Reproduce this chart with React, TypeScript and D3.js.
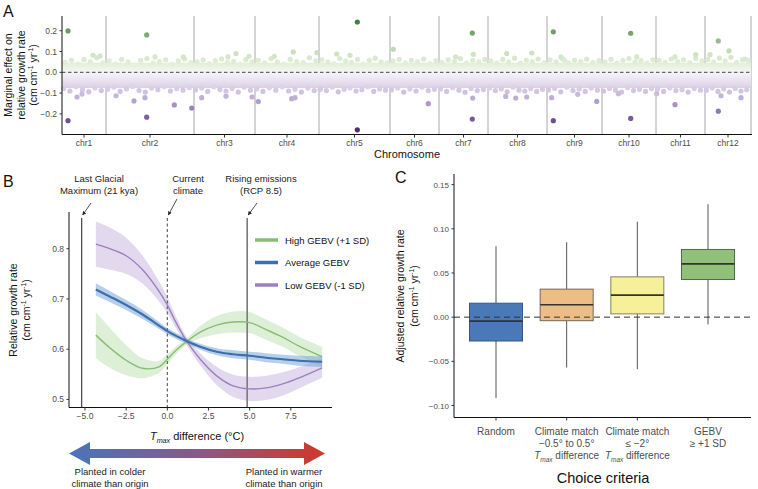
import React from 'react';
import * as d3 from 'd3';

// ---------- Panel A data ----------
const chromosomes = ['chr1','chr2','chr3','chr4','chr5','chr6','chr7','chr8','chr9','chr10','chr11','chr12'];
const chrLengths = [44, 88, 61, 64, 71, 49, 49, 59, 55, 54, 49, 46];
const yTicksA = [-0.2, -0.1, 0, 0.1, 0.2];
// [chromosome index, position within chromosome, marginal effect]
const outliers: [number, number, number][] = [
  [0, 6, 0.199], [0, 6, -0.233], [0, 15, -0.119], [0, 31, 0.082], [0, 20, -0.105], [0, 38, 0.078],
  [1, 40.7, 0.18], [1, 40.7, -0.216], [1, 10, -0.113], [1, 28, -0.138], [1, 39, -0.122], [1, 49, 0.074],
  [1, 68.3, -0.157], [1, 77.3, 0.074], [1, 85.7, -0.172],
  [2, 7.7, -0.122], [2, 32, -0.115], [2, 34, 0.074], [2, 42, 0.09], [2, 55, 0.077], [2, 58, -0.119],
  [3, 3.3, -0.141], [3, 19.3, 0.077], [3, 36.7, -0.127], [3, 40, -0.122], [3, 38.3, 0.098], [3, 62, 0.095],
  [4, 38.3, 0.242], [4, 38.3, -0.277], [4, 17.7, 0.088], [4, 31, 0.082], [4, 1, -0.084],
  [5, 3.3, 0.111], [5, 38.3, -0.151],
  [6, 33.3, 0.189], [6, 33.3, -0.225], [6, 33.7, -0.124], [6, 34.3, 0.087], [6, 16.7, 0.074],
  [7, 18.7, 0.09], [7, 27.7, -0.124], [7, 38.7, -0.119], [7, 17.7, -0.116], [7, 43.7, 0.093],
  [8, 6.3, 0.195], [8, 6.3, -0.233], [8, 4.7, -0.122], [8, 14, 0.074], [8, 17.3, 0.058], [8, 30.7, -0.106], [8, 49.7, -0.14],
  [9, 28.7, 0.188], [9, 28.7, -0.222], [9, 16.3, -0.103], [9, 34.7, 0.074],
  [10, 19, 0.074], [10, 19, -0.156], [10, 39.7, 0.085], [10, 0.7, -0.103],
  [11, 13.3, 0.151], [11, 13.3, -0.187], [11, 24, 0.103], [11, 5, 0.085], [11, 16, -0.113], [11, 36, -0.122], [11, 40, 0.063],
];
const upperFringe: number[][] = [
  [0.048,0.058,0.040,0.062,0.052,0.070,0.045],
  [0.055,0.040,0.062,0.050,0.035,0.058,0.066,0.045,0.052,0.060,0.038,0.055,0.064,0.047],
  [0.050,0.060,0.042,0.056,0.064,0.048,0.053,0.040,0.061,0.050],
  [0.058,0.045,0.066,0.050,0.040,0.062,0.052,0.048,0.070,0.055],
  [0.060,0.050,0.042,0.066,0.055,0.048,0.062,0.040,0.058,0.068,0.050,0.045],
  [0.055,0.062,0.045,0.058,0.050,0.064,0.042,0.056],
  [0.048,0.060,0.052,0.066,0.045,0.058,0.050,0.062],
  [0.055,0.045,0.062,0.050,0.068,0.044,0.058,0.052,0.064,0.047],
  [0.060,0.050,0.066,0.045,0.058,0.052,0.063,0.048,0.056],
  [0.050,0.062,0.045,0.058,0.066,0.050,0.056,0.044,0.060],
  [0.058,0.048,0.064,0.052,0.060,0.046,0.066,0.055],
  [0.062,0.050,0.068,0.055,0.072,0.048,0.060,0.058],
];
const lowerFringe: number[][] = [
  [-0.078,-0.090,-0.070,-0.085,-0.094,-0.075,-0.088],
  [-0.082,-0.072,-0.092,-0.080,-0.068,-0.088,-0.095,-0.076,-0.084,-0.070,-0.090,-0.079,-0.086,-0.074],
  [-0.085,-0.075,-0.092,-0.070,-0.083,-0.090,-0.078,-0.095,-0.072,-0.086],
  [-0.080,-0.092,-0.074,-0.086,-0.070,-0.090,-0.082,-0.095,-0.076,-0.088],
  [-0.078,-0.088,-0.072,-0.094,-0.082,-0.075,-0.090,-0.084,-0.070,-0.092,-0.080,-0.086],
  [-0.085,-0.075,-0.095,-0.080,-0.090,-0.072,-0.088,-0.082],
  [-0.080,-0.092,-0.074,-0.086,-0.096,-0.078,-0.088,-0.083],
  [-0.075,-0.088,-0.080,-0.094,-0.072,-0.086,-0.090,-0.078,-0.092,-0.082],
  [-0.085,-0.078,-0.094,-0.072,-0.088,-0.080,-0.092,-0.076,-0.086],
  [-0.090,-0.078,-0.086,-0.095,-0.074,-0.088,-0.082,-0.092,-0.079],
  [-0.080,-0.092,-0.075,-0.088,-0.084,-0.095,-0.078,-0.086],
  [-0.086,-0.075,-0.092,-0.080,-0.095,-0.078,-0.090,-0.084],
];
const bandTop = 0.046;
const bandBottom = -0.076;

// ---------- Panel B data ----------
const tmaxGrid = [-4.34, -3.5, -2.5, -1.5, -0.5, 0, 0.5, 1.2, 2, 3, 4, 5, 6, 7, 8, 9.4];
const highGEBV = [0.628, 0.603, 0.578, 0.562, 0.565, 0.580, 0.597, 0.616, 0.634, 0.648, 0.654, 0.653, 0.639, 0.624, 0.606, 0.585];
const highSE   = [0.046, 0.040, 0.030, 0.020, 0.012, 0.010, 0.008, 0.006, 0.012, 0.018, 0.021, 0.021, 0.020, 0.019, 0.019, 0.020];
const avgGEBV  = [0.719, 0.705, 0.688, 0.669, 0.647, 0.636, 0.627, 0.616, 0.605, 0.595, 0.590, 0.587, 0.583, 0.580, 0.577, 0.575];
const avgSE    = [0.012, 0.011, 0.010, 0.009, 0.007, 0.006, 0.006, 0.005, 0.006, 0.007, 0.008, 0.008, 0.009, 0.009, 0.010, 0.011];
const lowGEBV  = [0.809, 0.800, 0.786, 0.758, 0.715, 0.688, 0.655, 0.615, 0.580, 0.547, 0.527, 0.521, 0.523, 0.531, 0.543, 0.563];
const lowSE    = [0.045, 0.042, 0.036, 0.028, 0.020, 0.016, 0.012, 0.008, 0.012, 0.018, 0.022, 0.024, 0.024, 0.023, 0.021, 0.020];
const xTicksB = [-5, -2.5, 0, 2.5, 5, 7.5];
const yTicksB = [0.5, 0.6, 0.7, 0.8];
const refLines = [-5.2, 0, 4.85];

// ---------- Panel C data ----------
const criteria = ['Random', 'Climate match narrow', 'Climate match cold', 'GEBV'];
const boxMin = [-0.0916, -0.057, -0.0588, -0.0083];
const boxQ1 = [-0.027, -0.004, 0.0037, 0.0426];
const boxMedian = [-0.0045, 0.014, 0.0249, 0.0603];
const boxQ3 = [0.0158, 0.0317, 0.0456, 0.0766];
const boxMax = [0.0803, 0.0848, 0.108, 0.1278];
const yTicksC = [-0.1, -0.05, 0, 0.05, 0.1, 0.15];

const FONT = "'Liberation Sans', Arial, Helvetica, sans-serif";
const GRAY = '#4d4d4d';

const fmtMinus = (s: string) => s.replace('-', '\u2212');

function Unit({ x, y, size }: { x: number; y: number; size: number }) {
  return (
    <text x={x} y={y} fontSize={size} textAnchor="middle" fill="#111">
      <tspan>(cm cm</tspan>
      <tspan fontSize={size * 0.65} dy={-size * 0.38}>-1</tspan>
      <tspan dy={size * 0.38}> yr</tspan>
      <tspan fontSize={size * 0.65} dy={-size * 0.38}>-1</tspan>
      <tspan dy={size * 0.38}>)</tspan>
    </text>
  );
}

export default function App() {
  // ===== Panel A =====
  const chrStarts = chrLengths.map((_, i) => d3.sum(chrLengths.slice(0, i)));
  const total = d3.sum(chrLengths);
  const xA = d3.scaleLinear().domain([0, total]).range([62, 751]);
  const yA = d3.scaleLinear().domain([-0.297, 0.271]).range([134, 16]);
  const greenC = d3.scaleLinear<string>().domain([0, 0.03, 0.06, 0.1, 0.19, 0.25])
    .range(['#f6f8f3', '#e9f1e1', '#dcebd1', '#c8dfba', '#73a368', '#3d7a3c']).clamp(true);
  const purpleC = d3.scaleLinear<string>().domain([0, -0.03, -0.07, -0.12, -0.22, -0.28])
    .range(['#f7f5f9', '#ece6f2', '#ddd3e8', '#c0b0d6', '#7c5c9f', '#4b2b6f']).clamp(true);
  const colA = (v: number) => (v >= 0 ? greenC(v) : purpleC(v));

  const fringePts: { x: number; v: number }[] = [];
  chromosomes.forEach((_, c) => {
    const L = chrLengths[c];
    upperFringe[c].forEach((v, i, arr) => fringePts.push({ x: xA(chrStarts[c] + ((i + 0.5) / arr.length) * L), v }));
    lowerFringe[c].forEach((v, i, arr) => fringePts.push({ x: xA(chrStarts[c] + ((i + 0.25) / arr.length) * L), v }));
  });
  const bandStops = [bandTop, 0.025, 0.008, -0.008, -0.025, -0.05, bandBottom];

  // ===== Panel B =====
  const xB = d3.scaleLinear().domain([-5.97, 10]).range([69, 332]);
  const yB = d3.scaleLinear().domain([0.485, 0.873]).range([407, 212]);
  const lineB = (vals: number[]) =>
    d3.line<number>().x((_, i) => xB(tmaxGrid[i])).y((v) => yB(v)).curve(d3.curveCatmullRom.alpha(0.5))(vals) || '';
  const ribbonB = (vals: number[], se: number[]) =>
    d3.area<number>().x((_, i) => xB(tmaxGrid[i])).y0((v, i) => yB(v - se[i])).y1((v, i) => yB(v + se[i]))
      .curve(d3.curveCatmullRom.alpha(0.5))(vals) || '';
  const series = [
    { name: 'High GEBV (+1 SD)', vals: highGEBV, se: highSE, line: '#86bf72', fill: '#9fd08b', op: 0.35, w: 1.4 },
    { name: 'Average GEBV', vals: avgGEBV, se: avgSE, line: '#3d6eae', fill: '#6fa2d6', op: 0.5, w: 2.2 },
    { name: 'Low GEBV (-1 SD)', vals: lowGEBV, se: lowSE, line: '#9a80bd', fill: '#b9a0d6', op: 0.4, w: 1.4 },
  ];
  const drawOrder = [0, 2, 1];

  // ===== Panel C =====
  const xC = d3.scalePoint<string>().domain(criteria).range([496, 708]);
  const yC = d3.scaleLinear().domain([-0.113, 0.162]).range([417, 174]);
  const boxW = 53;
  const boxFill = ['#4a79b7', '#ecbd84', '#f7f09b', '#91c07b'];
  const boxStroke = ['#38577f', '#77664f', '#85825c', '#4f6d45'];

  const tmaxLabel = (extra: string) => (
    <>
      <tspan fontStyle="italic">T</tspan>
      <tspan fontStyle="italic" fontSize="65%" dy={2.5}>max</tspan>
      <tspan dy={-2.5}>{extra}</tspan>
    </>
  );
  const cLabels: React.ReactNode[][] = [
    ['Random'],
    ['Climate match', '\u22120.5\u00b0 to 0.5\u00b0', tmaxLabel(' difference')],
    ['Climate match', '\u2264 \u22122\u00b0', tmaxLabel(' difference')],
    ['GEBV', '\u2265 +1 SD'],
  ];

  return (
    <svg width={758} height={489} style={{ position: 'absolute', left: 0, top: 0, background: '#fff' }} fontFamily={FONT}>
      <defs>
        <linearGradient id="bandGrad" gradientUnits="userSpaceOnUse" x1={0} x2={0} y1={yA(bandTop)} y2={yA(bandBottom)}>
          {bandStops.map((v, i) => (
            <stop key={i} offset={(yA(v) - yA(bandTop)) / (yA(bandBottom) - yA(bandTop))} stopColor={colA(v)} />
          ))}
        </linearGradient>
        <linearGradient id="arrowGrad" x1="0" x2="1" y1="0" y2="0">
          <stop offset="0" stopColor="#4a74ba" />
          <stop offset="0.5" stopColor="#875a87" />
          <stop offset="1" stopColor="#d1382a" />
        </linearGradient>
        <marker id="arr" viewBox="0 0 10 10" refX="9" refY="5" markerWidth="5" markerHeight="5" orient="auto">
          <path d="M0,0 L10,5 L0,10 z" fill="#222" />
        </marker>
      </defs>

      {/* ================= Panel A ================= */}
      <text x={3} y={17} fontSize={16} fill="#111">A</text>
      {chrStarts.slice(1).concat([total]).map((s, i) => (
        <line key={i} x1={xA(s)} x2={xA(s)} y1={16} y2={134} stroke="#a8a8a8" strokeWidth={1} />
      ))}
      <rect x={xA(0)} width={xA(total) - xA(0)} y={yA(bandTop)} height={yA(bandBottom) - yA(bandTop)} fill="url(#bandGrad)" />
      {fringePts.map((p, i) => (
        <circle key={i} cx={p.x} cy={yA(p.v)} r={2.6} fill={colA(p.v)} />
      ))}
      {outliers.map(([c, pos, v], i) => (
        <circle key={'o' + i} cx={xA(chrStarts[c] + pos)} cy={yA(v)} r={2.6} fill={colA(v)} />
      ))}
      <line x1={62} x2={751} y1={yA(0)} y2={yA(0)} stroke="#444" strokeWidth={1} strokeDasharray="3.5,2.5" />
      <line x1={62} x2={62} y1={16} y2={134.5} stroke="#111" strokeWidth={1} />
      <line x1={62} x2={752} y1={134.5} y2={134.5} stroke="#111" strokeWidth={1} />
      {yTicksA.map((t) => (
        <g key={t}>
          <line x1={59.5} x2={62} y1={yA(t)} y2={yA(t)} stroke="#333" />
          <text x={57} y={yA(t) + 3} fontSize={8.5} textAnchor="end" fill={GRAY}>{fmtMinus(t.toFixed(1))}</text>
        </g>
      ))}
      {chromosomes.map((c, i) => {
        const cx = xA(chrStarts[i] + chrLengths[i] / 2);
        return (
          <g key={c}>
            <line x1={cx} x2={cx} y1={134.5} y2={137.5} stroke="#333" />
            <text x={cx} y={146} fontSize={8.5} textAnchor="middle" fill={GRAY}>{c}</text>
          </g>
        );
      })}
      <text x={407} y={157.5} fontSize={11} textAnchor="middle" fill="#111">Chromosome</text>
      <g transform="translate(12,75) rotate(-90)">
        <text x={0} y={0} fontSize={10.5} textAnchor="middle" fill="#111">Marginal effect on</text>
      </g>
      <g transform="translate(24.5,75) rotate(-90)">
        <text x={0} y={0} fontSize={10.5} textAnchor="middle" fill="#111">relative growth rate</text>
      </g>
      <g transform="translate(37,75) rotate(-90)">
        <Unit x={0} y={0} size={10.5} />
      </g>

      {/* ================= Panel B ================= */}
      <text x={3} y={187} fontSize={16} fill="#111">B</text>
      <text x={99} y={182} fontSize={9.5} textAnchor="middle" fill="#222">Last Glacial</text>
      <text x={99} y={194} fontSize={9.5} textAnchor="middle" fill="#222">Maximum (21 kya)</text>
      <text x={188} y={182} fontSize={9.5} textAnchor="middle" fill="#222">Current</text>
      <text x={188} y={194} fontSize={9.5} textAnchor="middle" fill="#222">climate</text>
      <text x={261} y={182} fontSize={9.5} textAnchor="middle" fill="#222">Rising emissions</text>
      <text x={261} y={194} fontSize={9.5} textAnchor="middle" fill="#222">(RCP 8.5)</text>
      <line x1={91} y1={203} x2={xB(refLines[0]) + 1} y2={215} stroke="#222" strokeWidth={0.8} markerEnd="url(#arr)" />
      <line x1={177} y1={199} x2={xB(refLines[1]) + 1} y2={215} stroke="#222" strokeWidth={0.8} markerEnd="url(#arr)" />
      <line x1={257} y1={203} x2={xB(refLines[2]) + 1} y2={215} stroke="#222" strokeWidth={0.8} markerEnd="url(#arr)" />

      {drawOrder.map((k) => (
        <path key={'r' + k} d={ribbonB(series[k].vals, series[k].se)} fill={series[k].fill} fillOpacity={series[k].op} />
      ))}
      <line x1={xB(refLines[0])} x2={xB(refLines[0])} y1={218} y2={407} stroke="#333" strokeWidth={1.1} />
      <line x1={xB(refLines[1])} x2={xB(refLines[1])} y1={218} y2={407} stroke="#555" strokeWidth={1.1} strokeDasharray="3,2.5" />
      <line x1={xB(refLines[2])} x2={xB(refLines[2])} y1={218} y2={407} stroke="#7a7a7a" strokeWidth={1.6} />
      {drawOrder.map((k) => (
        <path key={'l' + k} d={lineB(series[k].vals)} fill="none" stroke={series[k].line} strokeWidth={series[k].w} />
      ))}
      {series.map((s, i) => (
        <g key={s.name}>
          <line x1={255} x2={278} y1={240 + i * 22.5} y2={240 + i * 22.5} stroke={s.line} strokeWidth={3.5} />
          <text x={285} y={243.5 + i * 22.5} fontSize={9.5} fill="#111">{s.name}</text>
        </g>
      ))}
      <line x1={69} x2={69} y1={212} y2={407.5} stroke="#111" />
      <line x1={69} x2={332} y1={407.5} y2={407.5} stroke="#111" />
      {yTicksB.map((t) => (
        <g key={t}>
          <line x1={66.5} x2={69} y1={yB(t)} y2={yB(t)} stroke="#333" />
          <text x={64} y={yB(t) + 3} fontSize={8.5} textAnchor="end" fill={GRAY}>{t.toFixed(1)}</text>
        </g>
      ))}
      {xTicksB.map((t) => (
        <g key={t}>
          <line x1={xB(t)} x2={xB(t)} y1={407.5} y2={410.5} stroke="#333" />
          <text x={xB(t)} y={419} fontSize={8.5} textAnchor="middle" fill={GRAY}>{fmtMinus(t.toFixed(1))}</text>
        </g>
      ))}
      <text x={197} y={440} fontSize={11} textAnchor="middle" fill="#111">{tmaxLabel(' difference (\u00b0C)')}</text>
      <g transform="translate(17,310) rotate(-90)">
        <text x={0} y={0} fontSize={10.5} textAnchor="middle" fill="#111">Relative growth rate</text>
      </g>
      <g transform="translate(30,310) rotate(-90)">
        <Unit x={0} y={0} size={10.5} />
      </g>
      <path d="M69,453.5 L90,442 L90,449 L304,449 L304,442 L325,453.5 L304,465 L304,458 L90,458 L90,465 Z" fill="url(#arrowGrad)" />
      <text x={110} y={475} fontSize={9.5} textAnchor="middle" fill="#222">Planted in colder</text>
      <text x={110} y={486.5} fontSize={9.5} textAnchor="middle" fill="#222">climate than origin</text>
      <text x={284} y={475} fontSize={9.5} textAnchor="middle" fill="#222">Planted in warmer</text>
      <text x={284} y={486.5} fontSize={9.5} textAnchor="middle" fill="#222">climate than origin</text>

      {/* ================= Panel C ================= */}
      <text x={395} y={183} fontSize={16} fill="#111">C</text>
      {criteria.map((c, i) => {
        const cx = xC(c) as number;
        return (
          <g key={c}>
            <line x1={cx} x2={cx} y1={yC(boxMax[i])} y2={yC(boxQ3[i])} stroke="#555" strokeWidth={1} />
            <line x1={cx} x2={cx} y1={yC(boxQ1[i])} y2={yC(boxMin[i])} stroke="#555" strokeWidth={1} />
            <rect x={cx - boxW / 2} width={boxW} y={yC(boxQ3[i])} height={yC(boxQ1[i]) - yC(boxQ3[i])}
              fill={boxFill[i]} stroke={boxStroke[i]} strokeWidth={1} />
            <line x1={cx - boxW / 2} x2={cx + boxW / 2} y1={yC(boxMedian[i])} y2={yC(boxMedian[i])} stroke="#333" strokeWidth={1.6} />
          </g>
        );
      })}
      <line x1={454} x2={751} y1={yC(0)} y2={yC(0)} stroke="#333" strokeWidth={1} strokeDasharray="6,4" />
      <line x1={454} x2={454} y1={174} y2={417.5} stroke="#111" />
      <line x1={454} x2={751} y1={417.5} y2={417.5} stroke="#111" />
      {yTicksC.map((t) => (
        <g key={t}>
          <line x1={451.5} x2={454} y1={yC(t)} y2={yC(t)} stroke="#333" />
          <text x={449} y={yC(t) + 3} fontSize={8} textAnchor="end" fill={GRAY}>{fmtMinus(t.toFixed(2))}</text>
        </g>
      ))}
      {criteria.map((c, i) => {
        const cx = xC(c) as number;
        return (
          <g key={'lab' + c}>
            <line x1={cx} x2={cx} y1={417.5} y2={420.5} stroke="#333" />
            {cLabels[i].map((l, j) => (
              <text key={j} x={cx} y={435 + j * 12} fontSize={10} textAnchor="middle" fill={GRAY}>{l}</text>
            ))}
          </g>
        );
      })}
      <text x={603} y={483} fontSize={14.5} textAnchor="middle" fill="#111">Choice criteria</text>
      <g transform="translate(404,296) rotate(-90)">
        <text x={0} y={0} fontSize={10.5} textAnchor="middle" fill="#111">Adjusted relative growth rate</text>
      </g>
      <g transform="translate(417.5,296) rotate(-90)">
        <Unit x={0} y={0} size={10.5} />
      </g>
    </svg>
  );
}
